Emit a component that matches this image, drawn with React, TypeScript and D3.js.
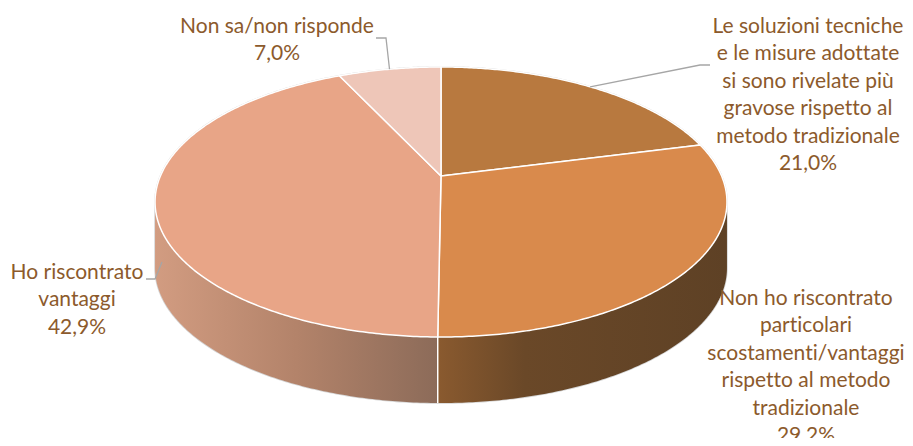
import React from 'react';
import * as d3 from 'd3';

// survey answers, share of respondents (%)
const categories = [
  'Le soluzioni tecniche e le misure adottate si sono rivelate più gravose rispetto al metodo tradizionale',
  'Non ho riscontrato particolari scostamenti/vantaggi rispetto al metodo tradizionale',
  'Ho riscontrato vantaggi',
  'Non sa/non risponde',
];
const values = [21.0, 29.2, 42.9, 7.0];
const valueLabels = ['21,0%', '29,2%', '42,9%', '7,0%'];
const labelLines = [
  ['Le soluzioni tecniche', 'e le misure adottate', 'si sono rivelate più', 'gravose rispetto al', 'metodo tradizionale'],
  ['Non ho riscontrato', 'particolari', 'scostamenti/vantaggi', 'rispetto al metodo', 'tradizionale'],
  ['Ho riscontrato', 'vantaggi'],
  ['Non sa/non risponde'],
];

const topColors = ['#B8793F', '#D98A4C', '#E8A587', '#EEC6B8'];
const sideStops: [number, string][][] = [
  [[0, '#9A6434'], [1, '#7A5130']],
  [[0, '#8A5A2F'], [0.3, '#6A4828'], [1, '#5E4125']],
  [[0, '#D29C81'], [0.5, '#B3836A'], [1, '#8C6B59']],
  [[0, '#D8AFA2'], [1, '#C09A8E']],
];

// label placement (center x, first baseline) and leader polylines
const labelPos = [
  { x: 808, y: 33, leader: [[700, 65], [710, 65]] },
  { x: 806, y: 305, leader: null },
  { x: 77, y: 279, leader: [[155, 279], [146, 279]] },
  { x: 277, y: 33, leader: [[386, 38], [376, 38]] },
];

const W = 913;
const H = 446;
const CX = 441;
const CY = 176;
const K = 280.6;
const B = 130;
const A = 0.1926;
const DEPTH = 66;
const LINE_H = 27.4;
const TEXT = '#8C5A2C';

// perspective projection of a point on the pie rim
const proj = (t: number, drop = 0): [number, number] => {
  const s = Math.sin(t);
  const c = Math.cos(t);
  const den = 1 + A * c;
  return [CX + (K * s) / den, CY - (B * c) / den + drop];
};

const arcPts = (t0: number, t1: number, drop = 0) => {
  const n = Math.max(2, Math.ceil(Math.abs(t1 - t0) / 0.01));
  return d3.range(n + 1).map((i) => proj(t0 + ((t1 - t0) * i) / n, drop));
};

export default function App() {
  const arcs = d3.pie<number>().sort(null).value((d) => d)(values);
  const line = d3.line();
  const tR = Math.acos(-A);
  const tL = 2 * Math.PI - tR;

  const sides = arcs
    .map((a, i) => {
      const s = Math.max(a.startAngle, tR);
      const e = Math.min(a.endAngle, tL);
      if (s >= e) return null;
      const top = arcPts(s, e);
      const bot = arcPts(e, s, DEPTH);
      const xs = top.map((p) => p[0]);
      return { i, d: line([...top, ...bot])! + 'Z', x0: d3.min(xs)!, x1: d3.max(xs)!, s, e };
    })
    .filter(Boolean) as { i: number; d: string; x0: number; x1: number; s: number; e: number }[];

  const topPaths = arcs.map((a) => line([[CX, CY], ...arcPts(a.startAngle, a.endAngle)])! + 'Z');

  return (
    <svg
      width={W}
      height={H}
      style={{ display: 'block', margin: '-8px', fontVariantLigatures: 'none' }}
      fontFamily="Lato, 'Open Sans', sans-serif"
    >
      <defs>
        {sides.map((sd) => (
          <linearGradient key={sd.i} id={`side${sd.i}`} gradientUnits="userSpaceOnUse" x1={sd.x0} x2={sd.x1} y1={0} y2={0}>
            {sideStops[sd.i].map(([o, c], j) => (
              <stop key={j} offset={o} stopColor={c} />
            ))}
          </linearGradient>
        ))}
      </defs>
      {/* outer silhouette outline */}
      <path
        d={line([...arcPts(tL - 2 * Math.PI, tR), ...arcPts(tR, tL, DEPTH)])! + 'Z'}
        fill="none"
        stroke="#D4D4D4"
        strokeWidth={1.6}
      />
      {sides.map((sd) => (
        <path key={sd.i} d={sd.d} fill={`url(#side${sd.i})`} stroke="none" />
      ))}
      {sides.map((sd) => {
        const p = proj(sd.s);
        return sd.s > tR + 1e-6 ? (
          <line key={'v' + sd.i} x1={p[0]} y1={p[1]} x2={p[0]} y2={p[1] + DEPTH} stroke="#fff" strokeWidth={1.5} />
        ) : null;
      })}
      {topPaths.map((d, i) => (
        <path key={i} d={d} fill={topColors[i]} stroke="#fff" strokeWidth={1.5} strokeLinejoin="round" />
      ))}
      {/* leaders */}
      {arcs.map((a, i) => {
        const lp = labelPos[i];
        if (!lp.leader) return null;
        const mid = (a.startAngle + a.endAngle) / 2;
        const start = i === 2 ? ([162, 262] as [number, number]) : proj(mid);
        return (
          <path
            key={'l' + i}
            d={line([start, ...(lp.leader as [number, number][])])!}
            fill="none"
            stroke="#A6A6A6"
            strokeWidth={1.3}
          />
        );
      })}
      {labelLines.map((ls, i) => (
        <text key={'t' + i} fill={TEXT} fontSize={21} textAnchor="middle">
          {[...ls, valueLabels[i]].map((l, j) => (
            <tspan key={j} x={labelPos[i].x} y={labelPos[i].y + j * LINE_H}>
              {l}
            </tspan>
          ))}
          <title>{categories[i]}</title>
        </text>
      ))}
    </svg>
  );
}
